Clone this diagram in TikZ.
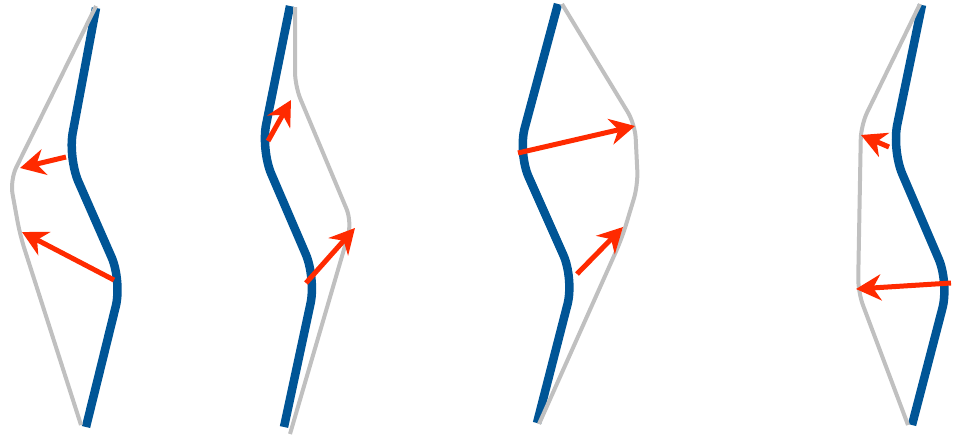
\documentclass[tikz,border=0pt]{standalone}
\usetikzlibrary{arrows.meta}
\definecolor{wblue}{RGB}{0,85,150}
\definecolor{wgray}{RGB}{192,192,192}
\definecolor{wred}{RGB}{255,42,0}
\tikzset{
  bluecurve/.style={draw=wblue, line width=8.5pt, rounded corners=26pt, line cap=butt},
  graycurve/.style={draw=wgray, line width=4pt, rounded corners=14pt},
  redarrow/.style={draw=wred, line width=5pt, -{Stealth[length=25pt, width=26pt, inset=8pt]}}
}
\begin{document}
\begin{tikzpicture}[x=1pt, y=-1pt]
\useasboundingbox (0,0) rectangle (954,437);
% Panel 1
\draw[bluecurve] (96,8) -- (68,158) -- (122,281) -- (86,427);
\draw[graycurve] (96,6) -- (10,180) -- (20,235) -- (81,425);
\coordinate (a1s) at (66,157); \coordinate (a1e) at (20,168);
\coordinate (a2s) at (114,280); \coordinate (a2e) at (22,232);
\draw[redarrow] (a1s) -- (a1e);
\draw[redarrow] (a2s) -- (a2e);
% Panel 2
\draw[bluecurve] (290,6) -- (261,150) -- (316,278) -- (284,427);
\draw[graycurve] (295,7) -- (295,86) -- (352,222) -- (290,434);
\coordinate (b1s) at (268,141); \coordinate (b1e) at (291,100);
\coordinate (b2s) at (306,283); \coordinate (b2e) at (355,228);
\draw[redarrow] (b1s) -- (b1e);
\draw[redarrow] (b2s) -- (b2e);
% Panel 3
\draw[bluecurve] (558,4) -- (518,153) -- (574,279) -- (537,423);
\draw[graycurve] (562,4) -- (635,124) -- (638,185) -- (622,238) -- (539,424);
\coordinate (c1s) at (518,153); \coordinate (c1e) at (635,126);
\coordinate (c2s) at (577,274); \coordinate (c2e) at (623,227);
\draw[redarrow] (c1s) -- (c1e);
\draw[redarrow] (c2s) -- (c2e);
% Panel 4
\draw[bluecurve] (922,5) -- (892,150) -- (949,283) -- (912,425);
\draw[graycurve] (920,4) -- (861,125) -- (858,292) -- (908,425);
\coordinate (d1s) at (889,147); \coordinate (d1e) at (861,135);
\coordinate (d2s) at (951,283); \coordinate (d2e) at (856,289);
\draw[redarrow] (d1s) -- (d1e);
\draw[redarrow] (d2s) -- (d2e);
\end{tikzpicture}
\end{document}
